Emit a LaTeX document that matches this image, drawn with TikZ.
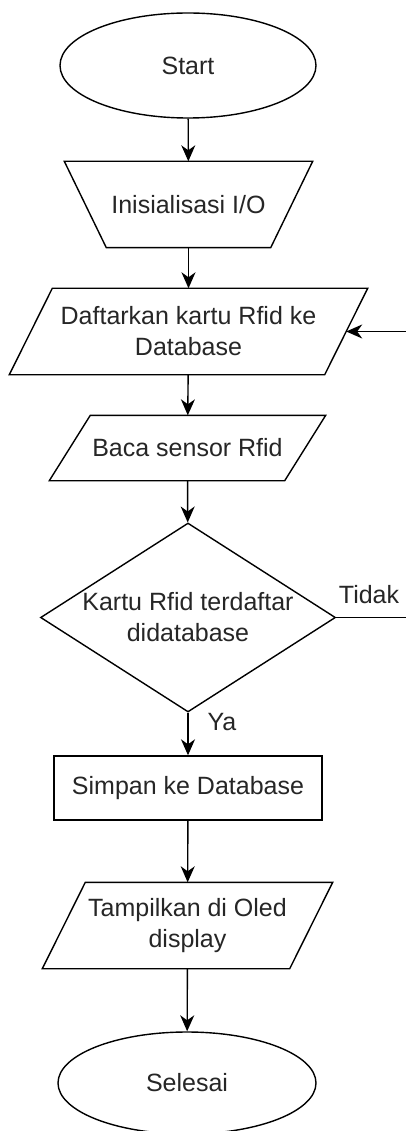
\documentclass[tikz,border=0pt]{standalone}
\usepackage{fontspec}
\setmainfont{Liberation Sans}
\usetikzlibrary{shapes.geometric,arrows.meta,calc}
\tikzset{
  base/.style={draw=black, line width=1.4pt, text=black!85, inner sep=0pt, align=center,
    font=\fontsize{25}{31}\selectfont},
  term/.style={base, ellipse, minimum width=256pt, minimum height=105pt},
  iobox/.style={base, draw=none, rectangle},
  outline/.style={draw=black, line width=1.4pt, line join=miter},
  procbox/.style={base, rectangle, minimum width=268pt, minimum height=64pt},
  decbox/.style={base, diamond, minimum width=295pt, minimum height=189pt, aspect=1.56},
  flow/.style={line width=1.4pt, -{Stealth[length=16pt,width=14pt,inset=5pt]}},
  lbl/.style={text=black!85, inner sep=0pt, font=\fontsize{25}{31}\selectfont}
}
\begin{document}
\begin{tikzpicture}[x=1pt,y=-1pt]
\useasboundingbox (0,0) rectangle (406,1131);
\clip (0,0) rectangle (406,1131);
\fill[white] (0,0) rectangle (406,1131);

\node[term] (start) at (188,65.5) {Start};

\node[iobox, minimum width=247pt, minimum height=85pt] (init) at (188.5,204.5) {Inisialisasi I/O};
\draw[outline] (init.north west) -- (init.north east) -- ($(init.south east)-(42,0)$)
  -- ($(init.south west)+(42,0)$) -- cycle;

\node[iobox, minimum width=357pt, minimum height=85pt] (reg) at (188.5,331.5) {Daftarkan kartu Rfid ke\\Database};
\draw[outline] (reg.south west) -- ($(reg.north west)+(43,0)$) -- (reg.north east)
  -- ($(reg.south east)-(43,0)$) -- cycle;
\coordinate (regin) at ($(reg.east)-(21.5,0)$);

\node[iobox, minimum width=275pt, minimum height=64pt] (read) at (187.5,448) {Baca sensor Rfid};
\draw[outline] (read.south west) -- ($(read.north west)+(41,0)$) -- (read.north east)
  -- ($(read.south east)-(41,0)$) -- cycle;

\node[decbox, label={[lbl, align=center]center:Kartu Rfid terdaftar\\didatabase}] (dec) at (188,617.5) {};
\node[procbox] (save) at (188,788) {Simpan ke Database};

\node[iobox, minimum width=289pt, minimum height=85pt] (show) at (187.5,925.5) {Tampilkan di Oled\\display};
\draw[outline] (show.south west) -- ($(show.north west)+(43,0)$) -- (show.north east)
  -- ($(show.south east)-(43,0)$) -- cycle;

\node[term, minimum width=258pt, minimum height=102pt] (end) at (187,1083) {Selesai};

\node[lbl] (tidak) at (369,595) {Tidak};
\node[lbl] (ya) at (222,722) {Ya};

\coordinate (loopA) at (430,617.5);
\coordinate (loopB) at (430,331.5);

\draw[flow] (start) -- (init);
\draw[flow] (init) -- (reg);
\draw[flow] (reg) -- (read);
\draw[flow] (read) -- (dec);
\draw[flow] (dec) -- (save);
\draw[flow] (save) -- (show);
\draw[flow] (show) -- (end);
\draw[flow] (dec.east) -- (loopA) -- (loopB) -- (regin);
\end{tikzpicture}
\end{document}
